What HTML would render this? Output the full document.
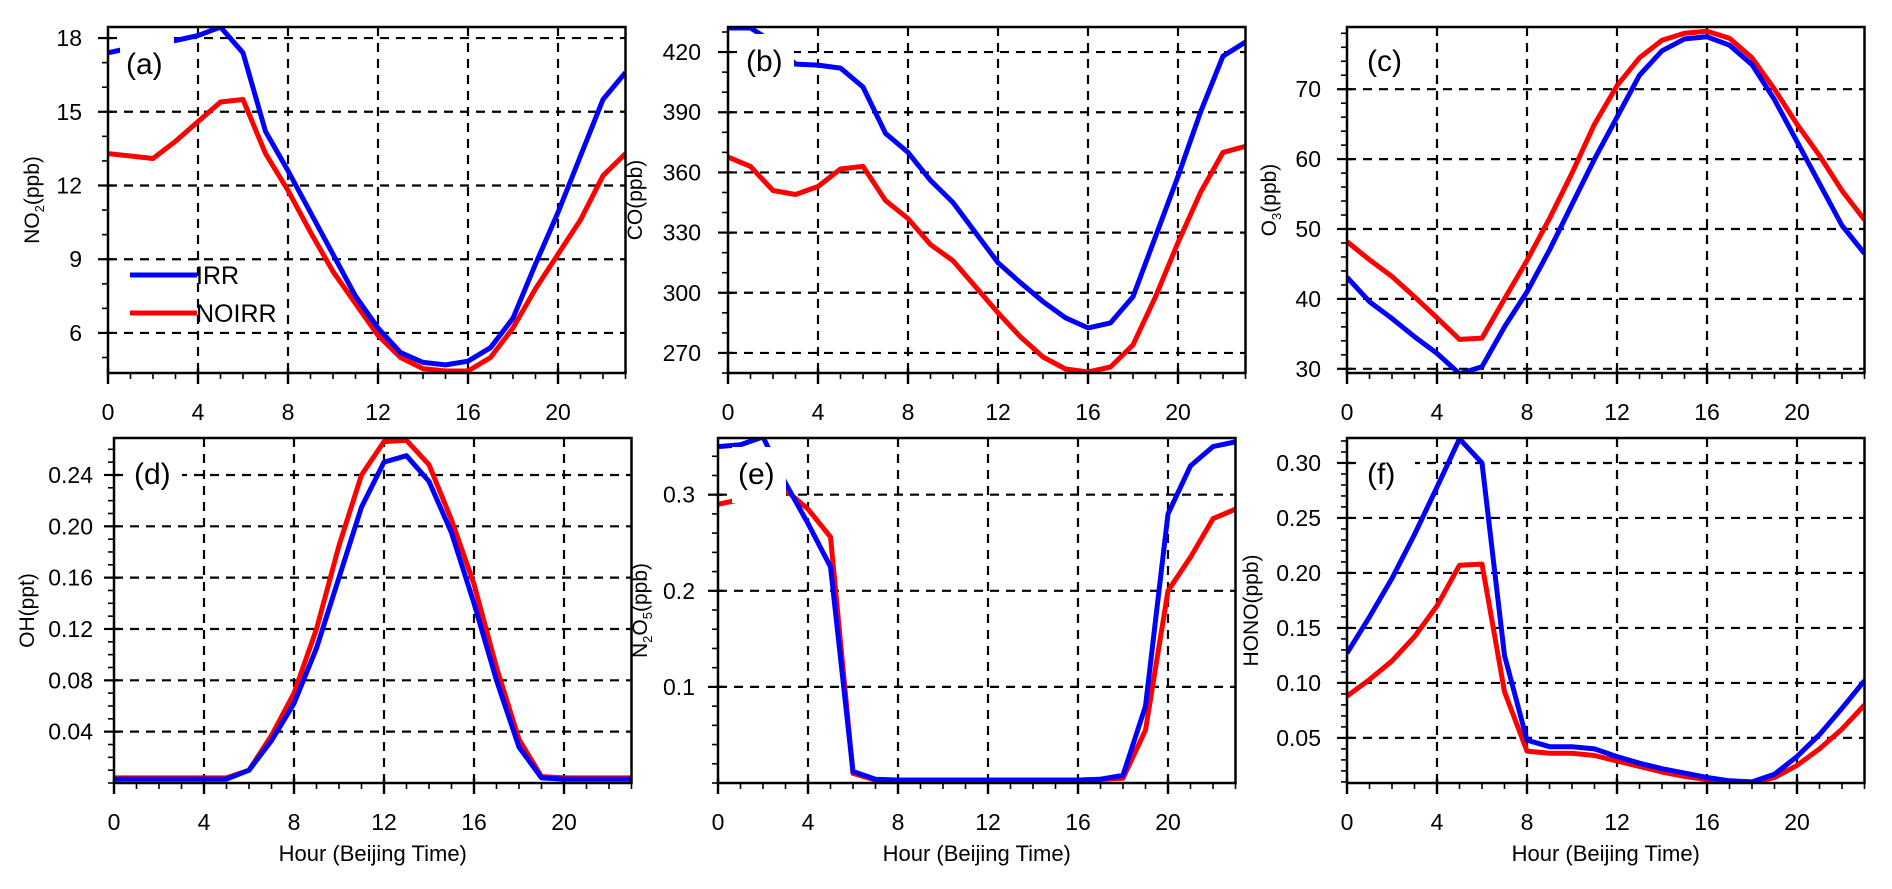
<!DOCTYPE html>
<html><head><meta charset="utf-8">
<style>
html,body{margin:0;padding:0;background:#fff;}
svg{display:block;font-family:"Liberation Sans",Arial,sans-serif;}
</style></head>
<body>
<svg id="chart" width="1892" height="889" viewBox="0 0 1892 889" xmlns="http://www.w3.org/2000/svg"></svg>
<script>
const hours = [0,1,2,3,4,5,6,7,8,9,10,11,12,13,14,15,16,17,18,19,20,21,22,23];
const xTickLabels = ["0","4","8","12","16","20"];
const no2Irr   = [17.4,17.6,17.8,17.9,18.1,18.45,17.4,14.2,12.6,10.9,9.2,7.5,6.2,5.2,4.8,4.7,4.85,5.4,6.6,8.8,10.9,13.2,15.5,16.6];
const no2Noirr = [13.3,13.2,13.1,13.8,14.6,15.4,15.5,13.3,11.8,10.1,8.5,7.2,5.9,5.0,4.55,4.45,4.45,5.0,6.2,7.8,9.2,10.6,12.4,13.3];
const coIrr    = [432,432,425,414,413.5,412,402.6,379.5,370,356,345,330,315,305,295.6,287.5,282.5,285,298,328,358,390,418,425];
const coNoirr  = [367.7,363,351,349,353,361.7,363,346,337,324,316,303,290,278,268,262,260.5,263,274,298,325,350,370,373];
const o3Irr    = [43.1,39.6,37.2,34.6,32.2,29.3,30.3,36,41,47,53.5,60,66,72,75.5,77.2,77.5,76.3,73.5,68.5,62.5,56.5,50.5,46.5];
const o3Noirr  = [48.2,45.6,43.2,40.3,37.3,34.2,34.4,40,45.5,51.5,58,65,70.5,74.5,77,78,78.3,77.3,74.5,70,65,60.5,55.5,51.3];
const ohIrr    = [0.003,0.003,0.003,0.003,0.003,0.003,0.010,0.033,0.062,0.105,0.16,0.215,0.25,0.255,0.235,0.195,0.14,0.08,0.028,0.004,0.003,0.003,0.003,0.003];
const ohNoirr  = [0.004,0.004,0.004,0.004,0.004,0.004,0.010,0.037,0.07,0.12,0.185,0.24,0.266,0.267,0.248,0.205,0.155,0.09,0.034,0.005,0.004,0.004,0.004,0.004];
const n2o5Irr  = [0.35,0.352,0.36,0.312,0.27,0.225,0.012,0.004,0.003,0.003,0.003,0.003,0.003,0.003,0.003,0.003,0.003,0.004,0.008,0.08,0.28,0.33,0.35,0.355];
const n2o5Noirr= [0.29,0.295,0.30,0.305,0.285,0.256,0.01,0.003,0.003,0.003,0.003,0.003,0.003,0.003,0.003,0.003,0.003,0.004,0.005,0.055,0.20,0.235,0.275,0.285];
const honoIrr  = [0.127,0.16,0.195,0.235,0.278,0.322,0.30,0.125,0.048,0.042,0.042,0.04,0.033,0.027,0.022,0.018,0.014,0.011,0.01,0.017,0.033,0.053,0.077,0.102];
const honoNoirr= [0.088,0.103,0.12,0.142,0.17,0.207,0.208,0.092,0.038,0.036,0.036,0.034,0.029,0.024,0.019,0.015,0.012,0.01,0.009,0.014,0.025,0.04,0.058,0.08];
const no2Ticks = ["6","9","12","15","18"];
const coTicks = ["270","300","330","360","390","420"];
const o3Ticks = ["30","40","50","60","70"];
const ohTicks = ["0.04","0.08","0.12","0.16","0.20","0.24"];
const n2o5Ticks = ["0.1","0.2","0.3"];
const honoTicks = ["0.05","0.10","0.15","0.20","0.25","0.30"];

const NS = "http://www.w3.org/2000/svg";
const svg = document.getElementById('chart');
function mk(tag, attrs, parent){ const e=document.createElementNS(NS,tag); for(const k in attrs) e.setAttribute(k,attrs[k]); (parent||svg).appendChild(e); return e; }

const panels = [
 {id:'a', x0:108, top:27, bot:373, ymin:4.37, ymax:18.45, ticks:no2Ticks, minor:1, title:'NO<tspan font-size="13" dy="5">2</tspan><tspan dy="-5">(ppb)</tspan>', tx:32, lblRight:82, irr:no2Irr, noirr:no2Noirr, label:'(a)', lx:126, ly:63, bb:30, xtitle:false, legend:true},
 {id:'b', x0:728, top:27, bot:373, ymin:260, ymax:432.5, ticks:coTicks, minor:10, title:'CO(ppb)', tx:635, lblRight:701, irr:coIrr, noirr:coNoirr, label:'(b)', lx:746, ly:60, bb:30, xtitle:false},
 {id:'c', x0:1347, top:27, bot:373, ymin:29.4, ymax:78.9, ticks:o3Ticks, minor:2, title:'O<tspan font-size="13" dy="5">3</tspan><tspan dy="-5">(ppb)</tspan>', tx:1269, lblRight:1321, irr:o3Irr, noirr:o3Noirr, label:'(c)', lx:1367, ly:60, bb:18, xtitle:false},
 {id:'d', x0:114, top:438, bot:783, ymin:0, ymax:0.2688, ticks:ohTicks, minor:0.01, title:'OH(ppt)', tx:27, lblRight:93, irr:ohIrr, noirr:ohNoirr, label:'(d)', lx:134, ly:473, bb:30, xtitle:true},
 {id:'e', x0:718, top:438, bot:783, ymin:0, ymax:0.359, ticks:n2o5Ticks, minor:0.02, title:'N<tspan font-size="13" dy="5">2</tspan><tspan dy="-5">O</tspan><tspan font-size="13" dy="5">5</tspan><tspan dy="-5">(ppb)</tspan>', tx:640, lblRight:695, irr:n2o5Irr, noirr:n2o5Noirr, label:'(e)', lx:738, ly:473, bb:30, xtitle:true},
 {id:'f', x0:1347, top:438, bot:783, ymin:0.009, ymax:0.3227, ticks:honoTicks, minor:0.01, title:'HONO(ppb)', tx:1251, lblRight:1321, irr:honoIrr, noirr:honoNoirr, label:'(f)', lx:1367, ly:473, bb:30, xtitle:true}
];
const HR = 22.5;

panels.forEach(p=>{
  const g = mk('g',{});
  
  
  const x1 = p.x0 + 23*HR;
  const xs = h => p.x0 + h*HR;
  const ys = v => p.bot - (v-p.ymin)/(p.ymax-p.ymin)*(p.bot-p.top);
  const clip = mk('clipPath',{id:'clip-'+p.id}, g);
  mk('rect',{x:p.x0,y:p.top,width:x1-p.x0,height:p.bot-p.top}, clip);
  [4,8,12,16,20].forEach(h=>{
    const l=mk('line',{x1:xs(h),x2:xs(h),y1:p.top,y2:p.bot,stroke:'#000','stroke-width':2.2,'stroke-dasharray':'9 7'},g);
    
    
  });
  p.ticks.forEach(t=>{
    const v=parseFloat(t), y=ys(v);
    const l=mk('line',{x1:p.x0,x2:x1,y1:y,y2:y,stroke:'#000','stroke-width':2.2,'stroke-dasharray':'9 7'},g);
    
    
    mk('line',{x1:p.x0-10,x2:p.x0+5,y1:y,y2:y,stroke:'#000','stroke-width':2.2},g);
    const tx=mk('text',{x:p.lblRight,y:y+8,'text-anchor':'end','font-size':23,fill:'#000'},g);
    tx.textContent=t;
    
    
  });
  const step=p.minor;
  for(let v=Math.ceil(p.ymin/step)*step; v<=p.ymax+1e-9; v+=step){
    const y=ys(v);
    mk('line',{x1:p.x0-6,x2:p.x0,y1:y,y2:y,stroke:'#000','stroke-width':1.6},g);
  }
  hours.forEach(h=>{
    const major = h%4===0;
    mk('line',{x1:xs(h),x2:xs(h),y1:p.bot-(major?5:0),y2:p.bot+(major?11:6),stroke:'#000','stroke-width':major?2.4:1.6},g);
  });
  xTickLabels.forEach(t=>{
    const tx=mk('text',{x:xs(parseFloat(t)),y:p.bot+47,'text-anchor':'middle','font-size':23,fill:'#000'},g);
    tx.textContent=t;
    
    
  });
  const draw=(vals,color,name)=>{
    const d=vals.map((v,i)=>(i?'L':'M')+xs(hours[i]).toFixed(1)+','+ys(v).toFixed(1)).join(' ');
    const path=mk('path',{d:d,fill:'none',stroke:color,'stroke-width':5,'stroke-linejoin':'round','clip-path':'url(#clip-'+p.id+')'},g);
    
    
  };
  draw(p.noirr,'#ff0000','noirr-line-'+p.id);
  draw(p.irr,'#0000ff','irr-line-'+p.id);
  const fr=mk('rect',{x:p.x0,y:p.top,width:x1-p.x0,height:p.bot-p.top,fill:'none',stroke:'#000','stroke-width':2.5},g);
  
  
  mk('rect',{x:p.lx-6,y:p.ly-26,width:54,height:26+p.bb,fill:'#fff'},g);
  const lb=mk('text',{x:p.lx,y:p.ly+11,'font-size':30,fill:'#000'},g);
  lb.textContent=p.label;
  
  
  const yt=mk('text',{x:p.tx,y:(p.top+p.bot)/2,'text-anchor':'middle','font-size':21,fill:'#000',transform:'rotate(-90 '+p.tx+' '+(p.top+p.bot)/2+')',dy:7},g);
  yt.innerHTML=p.title;
  
  
  if(p.xtitle){
    const xt=mk('text',{x:(p.x0+x1)/2,y:861,'text-anchor':'middle','font-size':22,fill:'#000'},g);
    xt.textContent='Hour (Beijing Time)';
    
    
  }
  if(p.legend){
    const lg=mk('g',{},g);
    
    
    mk('line',{x1:130,x2:197,y1:275,y2:275,stroke:'#0000ff','stroke-width':5},lg);
    const t1=mk('text',{x:196,y:284,'font-size':25,fill:'#000'},lg); t1.textContent='IRR';
    
    
    mk('line',{x1:130,x2:197,y1:313,y2:313,stroke:'#ff0000','stroke-width':5},lg);
    const t2=mk('text',{x:196,y:322,'font-size':25,fill:'#000'},lg); t2.textContent='NOIRR';
    
    
  }
});
</script>
</body></html>
